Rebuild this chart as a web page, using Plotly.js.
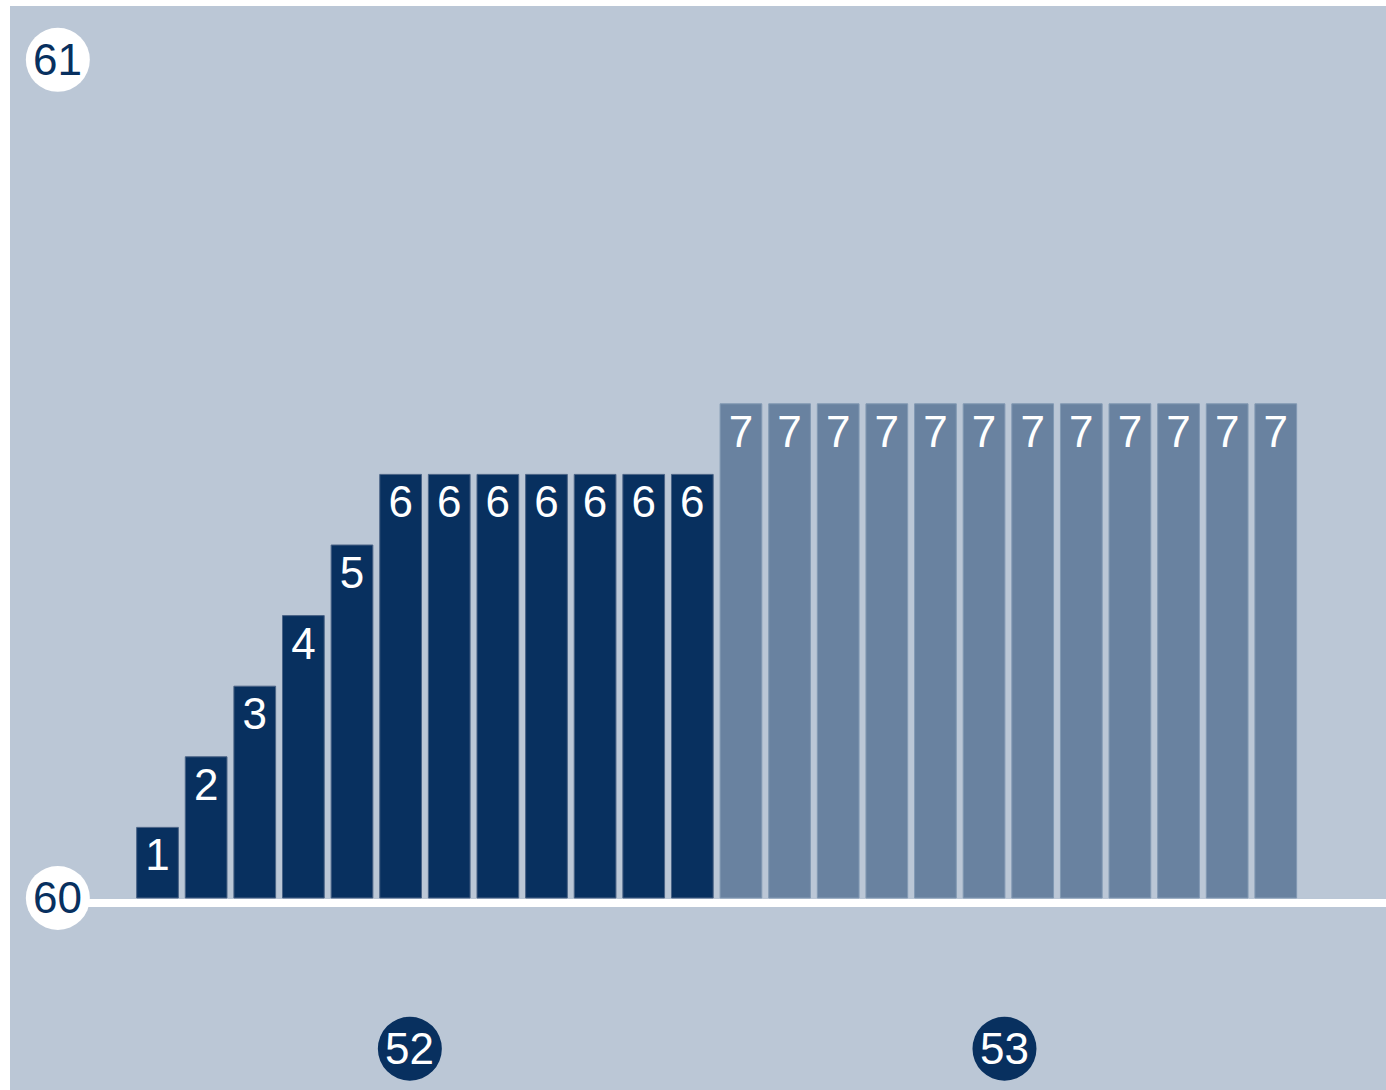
<!DOCTYPE html>
<html>
<head>
<meta charset="utf-8">
<script src="https://cdn.plot.ly/plotly-3.0.1.min.js"></script>
<style>html,body{margin:0;padding:0;background:#fff;}</style>
</head>
<body>
<div id="chart" style="width:1386px;height:1090px;"></div>
<script>
// Birth-year groups and monthly cohorts
var groups = ['52', '53'];
var months52 = ['1','2','3','4','5','6','7','8','9','10','11','12'];
var months53 = ['1','2','3','4','5','6','7','8','9','10','11','12'];
// Extra months above age 60, per cohort
var extra52 = [1, 2, 3, 4, 5, 6, 6, 6, 6, 6, 6, 6];
var extra53 = [7, 7, 7, 7, 7, 7, 7, 7, 7, 7, 7, 7];
// Y-axis tick labels (years) at month offsets
var tickVals = [0, 12];
var tickText = ['60', '61'];

var FONT = 'Liberation Sans, Arial, sans-serif';
var DARK = '#08305f';
var LIGHT = '#6982a0';
var BG = '#bbc7d6';

var x52 = months52.map(function (m, i) { return i; });
var x53 = months53.map(function (m, i) { return i + months52.length; });

var traces = [
  {
    type: 'bar', x: x52, y: extra52, text: extra52.map(String),
    textposition: 'inside', insidetextanchor: 'end', textangle: 0,
    textfont: {family: FONT, size: 44, color: '#ffffff'},
    marker: {color: DARK, line: {color: '#4a6386', width: 1}},
    hoverinfo: 'skip', showlegend: false
  },
  {
    type: 'bar', x: x53, y: extra53, text: extra53.map(String),
    textposition: 'inside', insidetextanchor: 'end', textangle: 0,
    textfont: {family: FONT, size: 44, color: '#ffffff'},
    marker: {color: LIGHT, line: {color: '#8299b3', width: 1}},
    hoverinfo: 'skip', showlegend: false
  }
];

var shapes = [
  {type: 'rect', xref: 'x', x0: -2.05, x1: 30, yref: 'y', ysizemode: 'pixel', yanchor: 0, y0: -1, y1: -9,
   fillcolor: '#ffffff', line: {width: 0}, layer: 'above'}
];
var annotations = [];
var tickShift = [0, -9];
tickVals.forEach(function (v, i) {
  shapes.push({type: 'circle', xref: 'x', yref: 'y', xsizemode: 'pixel', ysizemode: 'pixel',
    xanchor: -2.05, yanchor: v, x0: -32, x1: 32, y0: -32 + tickShift[i], y1: 32 + tickShift[i],
    fillcolor: '#ffffff', line: {width: 0}, layer: 'above'});
  annotations.push({x: -2.05, y: v, xref: 'x', yref: 'y', text: tickText[i], showarrow: false,
    yshift: tickShift[i], font: {family: FONT, size: 44, color: DARK}});
});
var groupX = [5.19, 17.42];
groups.forEach(function (g, i) {
  shapes.push({type: 'circle', xref: 'x', yref: 'y', xsizemode: 'pixel', ysizemode: 'pixel',
    xanchor: groupX[i], yanchor: -2.135, x0: -32, x1: 32, y0: -32, y1: 32,
    fillcolor: DARK, line: {width: 0}, layer: 'above'});
  annotations.push({x: groupX[i], y: -2.135, xref: 'x', yref: 'y', text: g, showarrow: false,
    font: {family: FONT, size: 44, color: '#ffffff'}});
});

var layout = {
  width: 1386, height: 1090,
  margin: {l: 10, r: 0, t: 6, b: 0, pad: 0},
  paper_bgcolor: '#ffffff', plot_bgcolor: BG,
  bargap: 0.142,
  font: {family: FONT},
  xaxis: {range: [-3.034, 25.267], showgrid: false, zeroline: false, showticklabels: false, ticks: '', fixedrange: true},
  yaxis: {range: [-2.720, 12.635], showgrid: false, zeroline: false, showticklabels: false, ticks: '',
          tickvals: tickVals, ticktext: tickText, fixedrange: true},
  shapes: shapes,
  annotations: annotations
};

Plotly.newPlot('chart', traces, layout, {displayModeBar: false, staticPlot: true});
</script>
</body>
</html>
